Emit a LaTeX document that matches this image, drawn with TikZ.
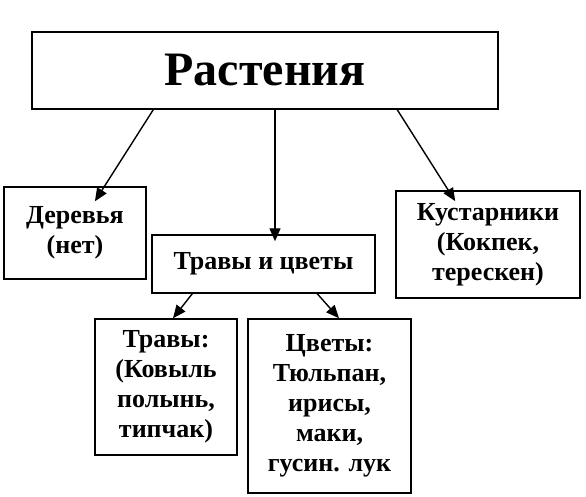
\documentclass[tikz,border=0pt]{standalone}
\usepackage{fontspec}
\setmainfont{Liberation Serif}
\usetikzlibrary{arrows.meta}

\begin{document}
\begin{tikzpicture}[x=1pt,y=-1pt,
    box/.style={draw,line width=1.5pt,rectangle,align=center,inner sep=0pt,
      font=\fontsize{26}{30}\selectfont\bfseries},
    arr/.style={line width=1.4pt,-{Triangle[length=13pt,width=11pt]}}]
      \useasboundingbox (0,0) rectangle (586,497);
      \draw
        (265,70.5) node[box,minimum width=466pt,minimum height=77pt,
          font=\fontsize{48}{52}\selectfont\bfseries] (plants) {Растения};
      \draw
        (75,233) node[box,minimum width=142pt,minimum height=92pt] (trees) {Деревья\\(нет)}
        (263.5,264) node[box,minimum width=223pt,minimum height=58pt] (herbsflowers) {Травы и цветы}
        (488,244.5) node[box,minimum width=184pt,minimum height=107pt] (shrubs) {Кустарники\\(Кокпек,\\терескен)};
      \draw
        (166,387) node[box,minimum width=142pt,minimum height=136pt] (herbs) {Травы:\\(Ковыль\\полынь,\\типчак)}
        (329.5,406) node[box,minimum width=163pt,minimum height=174pt] (flowers) {Цветы:\\Тюльпан,\\ирисы,\\маки,\\гусин. лук};
      \draw[arr,shorten >=-17.8pt] ([xshift=122pt]plants.south west) -- ([xshift=29.5pt]trees.north);
      \draw[arr,shorten >=-7pt] ([xshift=10pt]plants.south) -- ([xshift=11.5pt]herbsflowers.north);
      \draw[arr,shorten >=-12.9pt] ([xshift=366pt]plants.south west) -- ([xshift=-39.7pt]shrubs.north);
      \draw[arr] ([xshift=41pt]herbsflowers.south west) -- ([xshift=7pt]herbs.north);
      \draw[arr] ([xshift=166pt]herbsflowers.south west) -- ([xshift=9.5pt]flowers.north);
    \end{tikzpicture}
\end{document}
